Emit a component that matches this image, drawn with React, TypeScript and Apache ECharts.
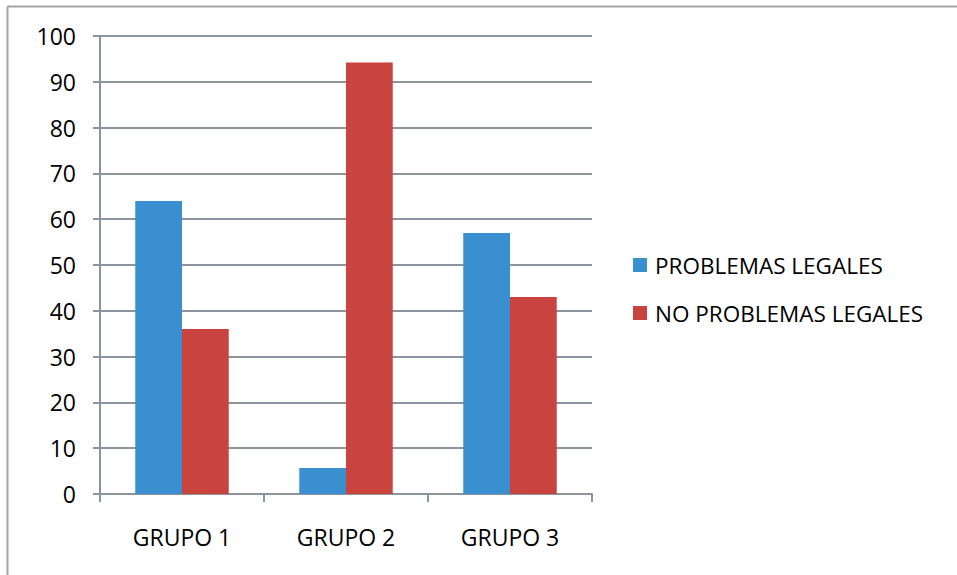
import React, { useEffect, useRef } from "react";
import * as echarts from "echarts";

const categories = ["GRUPO 1", "GRUPO 2", "GRUPO 3"];
const seriesNames = ["PROBLEMAS LEGALES", "NO PROBLEMAS LEGALES"];
const problemasLegales = [64, 5.7, 57];
const noProblemasLegales = [36, 94.2, 43];
const yTicks = { min: 0, max: 100, interval: 10 };

const FONT = "'Open Sans', 'Noto Sans', sans-serif";
const AXIS_COLOR = "#8C959D";
const FS = 23;

export default function App() {
  const ref = useRef<HTMLDivElement>(null);
  useEffect(() => {
    if (!ref.current) return;
    const chart = echarts.init(ref.current, undefined, { renderer: "svg" });
    chart.setOption({
      animation: false,
      backgroundColor: "#ffffff",
      textStyle: { fontFamily: FONT },
      grid: { left: 100, top: 36, right: 365, bottom: 81, containLabel: false },
      legend: {
        orient: "vertical",
        left: 633,
        top: 253,
        padding: 0,
        itemWidth: 14,
        itemHeight: 14,
        itemGap: 24,
        icon: "rect",
        textStyle: { fontSize: 22.5, lineHeight: 24, color: "#000", fontFamily: FONT, padding: [0, 0, 0, 3] },
        data: seriesNames,
      },
      xAxis: {
        type: "category",
        data: categories,
        axisLine: { show: true, lineStyle: { color: AXIS_COLOR, width: 2 } },
        axisTick: { show: true, length: 8, alignWithLabel: false, lineStyle: { color: AXIS_COLOR, width: 2 } },
        axisLabel: { fontSize: FS, color: "#000", margin: 31, fontFamily: FONT },
        splitLine: { show: false },
      },
      yAxis: {
        type: "value",
        min: yTicks.min,
        max: yTicks.max,
        interval: yTicks.interval,
        axisLine: { show: true, lineStyle: { color: AXIS_COLOR, width: 2 } },
        axisTick: { show: true, length: 7, lineStyle: { color: AXIS_COLOR, width: 2 } },
        axisLabel: { fontSize: FS, color: "#000", margin: 24, fontFamily: FONT },
        splitLine: { show: true, lineStyle: { color: AXIS_COLOR, width: 2 } },
      },
      series: [
        {
          name: seriesNames[0],
          type: "bar",
          data: problemasLegales,
          itemStyle: { color: "#3A8FD0" },
          barGap: "0%",
          barCategoryGap: "43%",
        },
        {
          name: seriesNames[1],
          type: "bar",
          data: noProblemasLegales,
          itemStyle: { color: "#C9433F" },
          barGap: "0%",
          barCategoryGap: "43%",
        },
      ],
      graphic: [
        { type: "line", shape: { x1: 7.5, y1: 6.5, x2: 957, y2: 6.5 }, style: { stroke: "#A3A3A3", lineWidth: 2 } },
        { type: "line", shape: { x1: 7.5, y1: 6.5, x2: 7.5, y2: 575 }, style: { stroke: "#A3A3A3", lineWidth: 2 } },
      ],
    });
    return () => chart.dispose();
  }, []);
  return (
    <div
      ref={ref}
      style={{ position: "absolute", left: 0, top: 0, width: 957, height: 575 }}
    />
  );
}
